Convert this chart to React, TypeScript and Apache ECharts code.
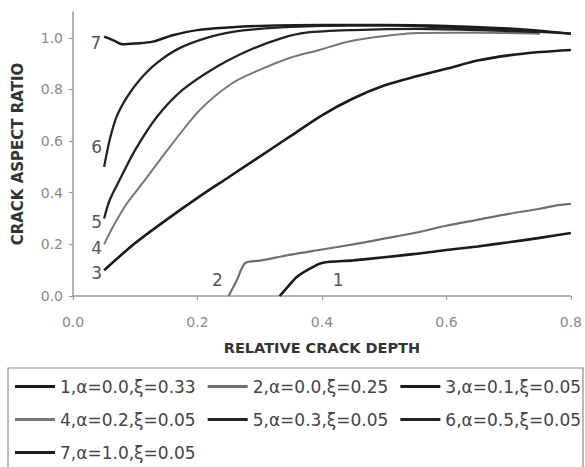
import React, { useEffect, useRef } from "react";
import * as echarts from "echarts";

// Relative crack depth (x) against crack aspect ratio (y) for seven parameter sets.
const seriesNames = [
  "1,α=0.0,ξ=0.33",
  "2,α=0.0,ξ=0.25",
  "3,α=0.1,ξ=0.05",
  "4,α=0.2,ξ=0.05",
  "5,α=0.3,ξ=0.05",
  "6,α=0.5,ξ=0.05",
  "7,α=1.0,ξ=0.05",
];

const curve1: [number, number][] = [
  [0.332, 0], [0.345, 0.035], [0.36, 0.075], [0.38, 0.105], [0.4, 0.128],
  [0.45, 0.138], [0.5, 0.15], [0.55, 0.163], [0.6, 0.178], [0.65, 0.192],
  [0.7, 0.208], [0.75, 0.225], [0.8, 0.244],
];

const curve2: [number, number][] = [
  [0.25, 0], [0.263, 0.06], [0.277, 0.128], [0.3, 0.137], [0.35, 0.16],
  [0.4, 0.18], [0.45, 0.2], [0.5, 0.222], [0.55, 0.245], [0.6, 0.272],
  [0.65, 0.295], [0.7, 0.318], [0.75, 0.338], [0.78, 0.352], [0.8, 0.357],
];

const curve3: [number, number][] = [
  [0.05, 0.1], [0.1, 0.205], [0.15, 0.295], [0.2, 0.38], [0.25, 0.46],
  [0.3, 0.54], [0.35, 0.62], [0.4, 0.7], [0.45, 0.765], [0.5, 0.815],
  [0.55, 0.85], [0.6, 0.88], [0.65, 0.912], [0.7, 0.932], [0.75, 0.945],
  [0.8, 0.953],
];

const curve4: [number, number][] = [
  [0.05, 0.2], [0.064, 0.267], [0.087, 0.36], [0.112, 0.438], [0.152, 0.566],
  [0.204, 0.721], [0.257, 0.826], [0.3, 0.876], [0.348, 0.922], [0.396, 0.953],
  [0.44, 0.984], [0.49, 1.004], [0.556, 1.019], [0.653, 1.02], [0.75, 1.016],
];

const curve5: [number, number][] = [
  [0.05, 0.3], [0.059, 0.372], [0.075, 0.45], [0.1, 0.566], [0.135, 0.694],
  [0.176, 0.798], [0.231, 0.888], [0.284, 0.953], [0.337, 1.0], [0.375, 1.02],
  [0.45, 1.03], [0.55, 1.035], [0.65, 1.03], [0.75, 1.022],
];

const curve6: [number, number][] = [
  [0.05, 0.5], [0.059, 0.605], [0.07, 0.694], [0.087, 0.771], [0.107, 0.837],
  [0.135, 0.903], [0.172, 0.961], [0.215, 1.0], [0.257, 1.023], [0.3, 1.035],
  [0.35, 1.042], [0.4, 1.046], [0.5, 1.048], [0.6, 1.04], [0.7, 1.03],
  [0.8, 1.016],
];

const curve7: [number, number][] = [
  [0.05, 1.005], [0.065, 0.99], [0.08, 0.975], [0.1, 0.978], [0.128, 0.985],
  [0.16, 1.01], [0.2, 1.03], [0.25, 1.04], [0.3, 1.046], [0.4, 1.05],
  [0.5, 1.05], [0.6, 1.046], [0.7, 1.036], [0.75, 1.028], [0.8, 1.016],
];

const curves = [curve1, curve2, curve3, curve4, curve5, curve6, curve7];

// Where each curve's number is written on the plot (data coordinates).
const curveTagPositions: [number, number][] = [
  [0.426, 0.062],
  [0.232, 0.062],
  [0.038, 0.089],
  [0.038, 0.186],
  [0.038, 0.287],
  [0.038, 0.578],
  [0.037, 0.98],
];

const xTicks = [0, 0.2, 0.4, 0.6, 0.8];
const yTicks = [0, 0.2, 0.4, 0.6, 0.8, 1.0];

const lineColors = ["#1a1a1a", "#6f6f6f", "#1a1a1a", "#777777", "#222222", "#222222", "#1c1c1c"];
const lineWidths = [2.6, 2.2, 2.6, 2, 2.3, 2.3, 2.4];

const FONT = "DejaVu Sans";

export default function App() {
  const ref = useRef<HTMLDivElement>(null);

  useEffect(() => {
    document.body.style.margin = "0";
    if (!ref.current) return;
    const chart = echarts.init(ref.current, undefined, { renderer: "svg" });

    const axisGray = "#9a9a9a";
    const labelGray = "#8a8a8a";

    chart.setOption({
      animation: false,
      backgroundColor: "#ffffff",
      textStyle: { fontFamily: FONT },
      grid: { left: 73, right: 13, top: 12, bottom: 171 },
      xAxis: {
        type: "value",
        min: 0,
        max: 0.8,
        interval: 0.2,
        splitLine: { show: false },
        axisLine: { show: true, lineStyle: { color: axisGray, width: 1.5 } },
        axisTick: { show: true, length: 4, inside: false, lineStyle: { color: axisGray, width: 1.2 }, customValues: xTicks },
        axisLabel: {
          color: labelGray,
          fontSize: 14,
          fontFamily: FONT,
          margin: 19,
          customValues: xTicks,
          formatter: (v: number) => v.toFixed(1),
        },
        name: "RELATIVE CRACK DEPTH",
        nameLocation: "middle",
        nameGap: 44,
        nameTextStyle: { color: "#333333", fontWeight: "bold", fontSize: 14.5, fontFamily: FONT },
      },
      yAxis: {
        type: "value",
        min: 0,
        max: 1.1,
        splitLine: { show: false },
        axisLine: { show: true, lineStyle: { color: axisGray, width: 1.5 } },
        axisTick: { show: true, length: 4, inside: false, lineStyle: { color: axisGray, width: 1.2 }, customValues: yTicks },
        axisLabel: {
          color: labelGray,
          fontSize: 14,
          fontFamily: FONT,
          margin: 10,
          customValues: yTicks,
          formatter: (v: number) => v.toFixed(1),
        },
        name: "CRACK ASPECT RATIO",
        nameLocation: "middle",
        nameGap: 48,
        nameTextStyle: { color: "#333333", fontWeight: "bold", fontSize: 15, fontFamily: FONT },
      },
      legend: {
        data: seriesNames,
        orient: "horizontal",
        left: 8,
        top: 368,
        width: 575,
        padding: [8, 8, 20, 7],
        icon: "rect",
        itemWidth: 40,
        itemHeight: 3,
        itemGap: 12,
        textStyle: { color: "#444444", fontSize: 17, fontFamily: FONT, lineHeight: 21 },
        selectedMode: false,
      },
      graphic: [
        {
          type: "rect",
          shape: { x: 8, y: 368, width: 575, height: 120 },
          style: { fill: "none", stroke: "#8c8c8c", lineWidth: 1.2 },
          silent: true,
        },
      ],
      series: curves.map((data, i) => ({
        name: seriesNames[i],
        type: "line",
        data,
        symbol: "none",
        smooth: 0.3,
        lineStyle: { color: lineColors[i], width: lineWidths[i] },
        itemStyle: { color: lineColors[i] },
        markPoint: {
          symbol: "circle",
          symbolSize: 1,
          itemStyle: { color: "rgba(0,0,0,0)" },
          label: {
            show: true,
            position: "inside",
            formatter: String(i + 1),
            color: "#555555",
            fontSize: 17,
            fontFamily: FONT,
          },
          data: [{ coord: curveTagPositions[i] }],
        },
      })),
    });

    return () => chart.dispose();
  }, []);

  return <div ref={ref} style={{ width: 585, height: 467 }} />;
}
